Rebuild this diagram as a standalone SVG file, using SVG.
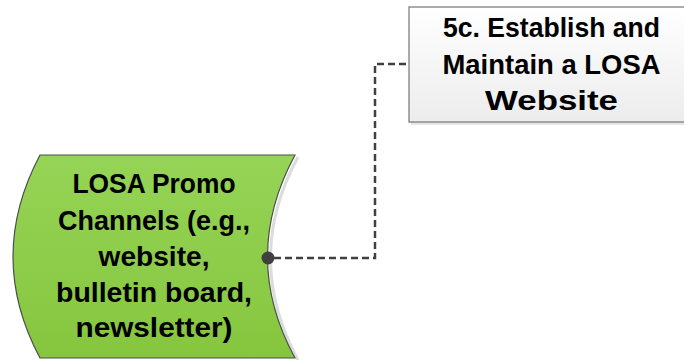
<svg xmlns="http://www.w3.org/2000/svg" width="684" height="360" viewBox="0 0 684 360">
<style>
.t{font-family:"Liberation Sans",Arial,sans-serif;font-weight:bold;font-size:28px;fill:#000;text-anchor:middle}
.edge{fill:none;stroke:#404040;stroke-width:2.5;stroke-dasharray:7 4}
</style>
<defs>
<linearGradient id="gGreen" x1="0" y1="0" x2="0" y2="1">
<stop offset="0" stop-color="#95d456"/>
<stop offset="1" stop-color="#86c63e"/>
</linearGradient>
<linearGradient id="gGray" x1="0" y1="0" x2="0" y2="1">
<stop offset="0" stop-color="#ffffff"/>
<stop offset="1" stop-color="#ececec"/>
</linearGradient>
</defs>
<g id="node-website">
<rect x="411" y="9" width="290" height="116" fill="#e6e6e6"/>
<rect x="409" y="7" width="285" height="115" fill="url(#gGray)" stroke="#7f7f7f" stroke-width="1.3"/>
<text class="t" x="551.5" y="37" textLength="217" lengthAdjust="spacingAndGlyphs">5c. Establish and</text>
<text class="t" x="551.5" y="74" textLength="218" lengthAdjust="spacingAndGlyphs">Maintain a LOSA</text>
<text class="t" x="551.5" y="110" textLength="133" lengthAdjust="spacingAndGlyphs">Website</text>
</g>
<g id="node-promo">
<path d="M298 157 Q243 258 298 360" fill="none" stroke="#dcdcdc" stroke-width="3"/>
<path d="M40 155 H295 Q240 257 295 358 H40 Q-14 257 40 155 Z" fill="url(#gGreen)" stroke="#4d4d4d" stroke-width="1.2"/>
<text class="t" x="154" y="193" textLength="163" lengthAdjust="spacingAndGlyphs">LOSA Promo</text>
<text class="t" x="154" y="230" textLength="192" lengthAdjust="spacingAndGlyphs">Channels (e.g.,</text>
<text class="t" x="154" y="266" textLength="111" lengthAdjust="spacingAndGlyphs">website,</text>
<text class="t" x="154" y="302" textLength="196" lengthAdjust="spacingAndGlyphs">bulletin board,</text>
<text class="t" x="154" y="337" textLength="157" lengthAdjust="spacingAndGlyphs">newsletter)</text>
</g>
<g id="connectors">
<path class="edge" d="M274 258 H375 V64 H409"/>
<circle cx="268" cy="258" r="6.5" fill="#404040"/>
</g>
</svg>
